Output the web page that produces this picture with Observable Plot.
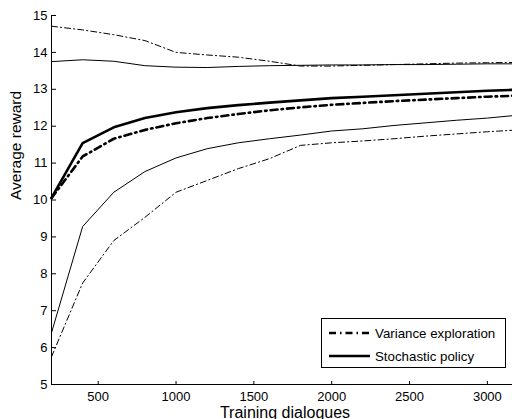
<!DOCTYPE html>
<html><head><meta charset="utf-8">
<script src="https://cdn.jsdelivr.net/npm/d3@7"></script>
<script src="https://cdn.jsdelivr.net/npm/@observablehq/plot@0.6"></script>
<style>
html,body{margin:0;padding:0;background:#fff;overflow:hidden;width:512px;height:419px}
#chart{position:relative;width:512px;height:419px;overflow:hidden}
#chart svg.plot{max-width:none !important}
#legend{position:absolute;left:321px;top:318px;width:185px;height:50px;border:1px solid #000;background:#fff;font:13.3px "Liberation Sans",Arial,sans-serif;color:#000;box-sizing:border-box}
#legend .row{position:absolute;left:0;height:16px;display:flex;align-items:center}
#legend svg{display:block}
#legend span{margin-left:5px;white-space:nowrap}
</style>
</head><body>
<div id="chart"></div>
<script>
const xs = [200,400,600,800,1000,1200,1400,1600,1800,2000,2200,2400,2600,2800,3000,3200];
const stochMean  = [10.06,11.54,11.97,12.22,12.38,12.49,12.57,12.64,12.70,12.76,12.80,12.84,12.88,12.92,12.96,12.99];
const varMean    = [10.05,11.18,11.66,11.90,12.08,12.22,12.33,12.43,12.51,12.58,12.63,12.68,12.72,12.76,12.80,12.83];
const stochUpper = [13.75,13.80,13.76,13.64,13.60,13.59,13.62,13.64,13.65,13.66,13.66,13.67,13.67,13.68,13.69,13.69];
const varUpper   = [14.71,14.61,14.48,14.32,14.00,13.93,13.87,13.76,13.63,13.63,13.65,13.67,13.69,13.71,13.72,13.73];
const stochLower = [6.40,9.28,10.21,10.77,11.14,11.39,11.55,11.66,11.76,11.87,11.93,12.02,12.09,12.16,12.22,12.30];
const varLower   = [5.75,7.75,8.90,9.53,10.21,10.53,10.85,11.12,11.48,11.55,11.60,11.66,11.73,11.79,11.85,11.90];
const xTicks = [500,1000,1500,2000,2500,3000];
const yTicks = [5,6,7,8,9,10,11,12,13,14,15];
const seriesNames = ["Variance exploration","Stochastic policy"];

const line = (vals, opts) => Plot.line(xs, {x: d => d, y: (d, i) => vals[i], stroke: "#000", ...opts});
const thinDash = {strokeWidth: 1, strokeDasharray: "6,3,1.2,3"};
const thickDash = {strokeWidth: 2.6, strokeDasharray: "7,4,1.5,4"};

const plot = Plot.plot({
  width: 520, height: 419,
  marginLeft: 51, marginRight: 2, marginTop: 15, marginBottom: 35,
  style: {fontFamily: "'Liberation Sans', Arial, sans-serif", fontSize: "13px", color: "#000", background: "#fff", maxWidth: "none"},
  x: {domain: [200, 3200]},
  y: {domain: [5, 15]},
  marks: [
    line(varUpper, thinDash),
    line(varLower, thinDash),
    line(stochUpper, {strokeWidth: 1}),
    line(stochLower, {strokeWidth: 1}),
    line(varMean, thickDash),
    line(stochMean, {strokeWidth: 2.6}),
    Plot.ruleY([5], {stroke: "#000", strokeWidth: 1}),
    Plot.ruleX([200], {stroke: "#000", strokeWidth: 1}),
    Plot.axisX(xTicks, {anchor: "top", frameAnchor: "bottom", tickSize: 4, tickFormat: () => "", label: null, stroke: "#000"}),
    Plot.axisY(yTicks, {anchor: "right", frameAnchor: "left", tickSize: 4, tickFormat: () => "", label: null, stroke: "#000"}),
    Plot.axisX(xTicks, {anchor: "bottom", tickSize: 0, tickPadding: 7, tickFormat: d3.format("d"), label: null, fill: "#000", fontSize: 13}),
    Plot.axisY(yTicks, {anchor: "left", tickSize: 0, tickPadding: 4, tickFormat: d3.format("d"), label: null, fill: "#000", fontSize: 13}),
    Plot.text(["Training dialogues"], {frameAnchor: "bottom", dy: 33, fontSize: 16, fill: "#000"}),
    Plot.text(["Average reward"], {frameAnchor: "left", dx: -35, rotate: -90, fontSize: 15.5, fill: "#000"})
  ]
});
plot.style.maxWidth = "none";
const chart = document.getElementById("chart");
chart.appendChild(plot);

const legend = document.createElement("div");
legend.id = "legend";
const dashes = ["7,4,1.5,4", null];
seriesNames.forEach((name, i) => {
  const row = document.createElement("div");
  row.className = "row";
  row.style.top = (i === 0 ? 6 : 29) + "px";
  row.style.left = "7px";
  const dash = dashes[i] ? `stroke-dasharray="${dashes[i]}"` : "";
  row.innerHTML = `<svg width="41" height="16"><line x1="0" x2="41" y1="8" y2="8" stroke="#000" stroke-width="2.6" ${dash}/></svg><span>${name}</span>`;
  legend.appendChild(row);
});
chart.appendChild(legend);
</script>
</body></html>
